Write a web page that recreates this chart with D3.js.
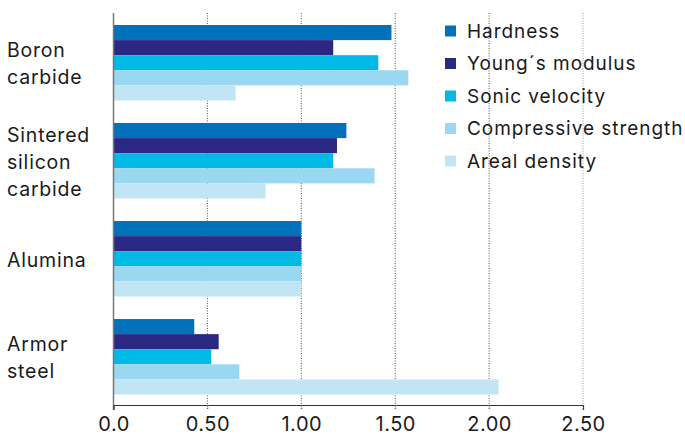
<!DOCTYPE html>
<html><head><meta charset="utf-8">
<script src="https://cdn.jsdelivr.net/npm/d3@7"></script>
<style>body{margin:0;background:#fff}svg{display:block}text{font-family:Inter,"Noto Sans",sans-serif;fill:#1a1a1a}</style>
</head><body><svg id="c" width="685" height="437"></svg>
<script>
const categories = ["Boron carbide", "Sintered silicon carbide", "Alumina", "Armor steel"];
const categoryLines = [["Boron","carbide"],["Sintered","silicon","carbide"],["Alumina"],["Armor","steel"]];
const series = ["Hardness", "Young´s modulus", "Sonic velocity", "Compressive strength", "Areal density"];
const hardness =            [1.48, 1.24, 1.00, 0.43];
const youngsModulus =       [1.17, 1.19, 1.00, 0.56];
const sonicVelocity =       [1.41, 1.17, 1.00, 0.52];
const compressiveStrength = [1.57, 1.39, 1.00, 0.67];
const arealDensity =        [0.65, 0.81, 1.00, 2.05];
const tickValues = [0, 0.5, 1.0, 1.5, 2.0, 2.5];
const tickLabels = ["0.0", "0.50", "1.00", "1.50", "2.00", "2.50"];
const colors = ["#0071BA", "#2A2883", "#00B9E4", "#9AD8F1", "#C2E5F5"];

const values = [hardness, youngsModulus, sonicVelocity, compressiveStrength, arealDensity];
const svg = d3.select("#c");
const x = d3.scaleLinear().domain([0, 2.5]).range([113.5, 583]);
const y = d3.scaleBand().domain(categories).range([25, 394.5]).paddingInner(0.23).paddingOuter(0);
const ys = d3.scaleBand().domain(series).range([0, y.bandwidth()]);

// gridlines
const grid = svg.append("g");
tickValues.slice(1).forEach((v, i) => {
  grid.append("line").attr("x1", x(v)).attr("x2", x(v)).attr("y1", 13).attr("y2", 410)
    .attr("stroke", i === 4 ? "#999" : "#555").attr("stroke-width", 1).attr("stroke-dasharray", "1,1.5");
});

// bars
categories.forEach((c, ci) => {
  series.forEach((s, si) => {
    svg.append("rect").attr("x", x(0)).attr("y", y(c) + ys(s))
      .attr("width", x(values[si][ci]) - x(0)).attr("height", ys.bandwidth())
      .attr("fill", colors[si]);
  });
});

// axes lines
svg.append("line").attr("x1", x(0)).attr("x2", x(0)).attr("y1", 13).attr("y2", 410).attr("stroke", "#777").attr("stroke-width", 1.5);
const xAxis = d3.axisBottom(x).tickValues(tickValues).tickFormat((d, i) => tickLabels[i]).tickSize(5).tickPadding(7);
const ag = svg.append("g").attr("transform", "translate(0,405)").call(xAxis);
ag.select(".domain").attr("stroke", "#333").attr("stroke-width", 1.2);
ag.selectAll(".tick line").attr("stroke", "#555").attr("stroke-dasharray", "1,1.5");
ag.selectAll(".tick text").style("font-family", "Inter, 'Noto Sans', sans-serif").style("font-size", "20px").style("letter-spacing", "0.5px").attr("fill", "#1a1a1a");

// category labels
const lineH = 27;
categories.forEach((c, ci) => {
  const lines = categoryLines[ci];
  const cy = y(c) + y.bandwidth() / 2 + 1;
  const t = svg.append("text").attr("x", 7).attr("font-size", 19.5).style("letter-spacing", "0.8px");
  lines.forEach((l, li) => {
    t.append("tspan").attr("x", 7).attr("y", cy + (li - (lines.length - 1) / 2) * lineH).attr("dy", "0.36em").text(l);
  });
});

// legend
series.forEach((s, si) => {
  const cy = 31 + si * 32.5;
  svg.append("rect").attr("x", 445).attr("y", cy - 5.5).attr("width", 11).attr("height", 11).attr("fill", colors[si]);
  svg.append("text").attr("x", 467).attr("y", cy).attr("dy", "0.36em").attr("font-size", 19).style("letter-spacing", "0.95px").text(s);
});
</script></body></html>
